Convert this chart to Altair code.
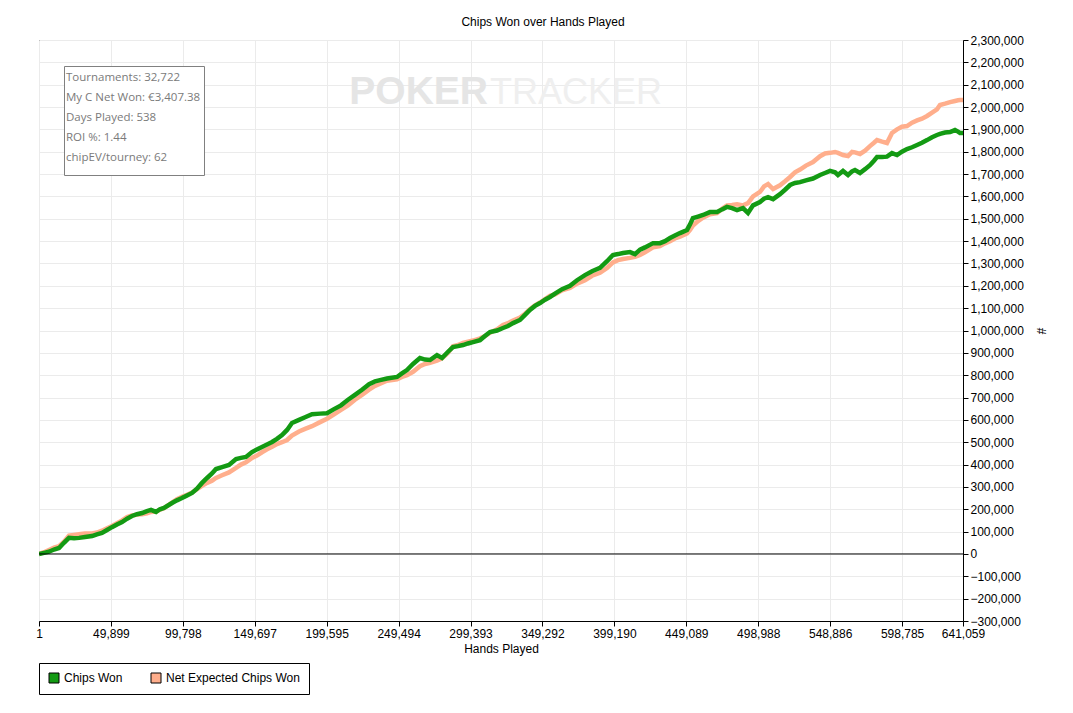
import altair as alt
import pandas as pd

# ---- data (hands in thousands, chips in thousands) ----
hands_k = [0.001, 3.5, 6.9, 10.4, 13.9, 17.3, 20.8, 24.3, 27.8, 31.9, 36.8, 40.2, 43.7, 47.2, 50.6,
           54.1, 57.6, 61.1, 64.5, 68.0, 71.5, 74.9, 77.7, 81.2, 83.9, 86.7, 92.3, 95.7, 99.2, 102.7,
           106.2, 109.6, 113.1, 116.6, 120.0, 122.8, 127.0, 131.8, 136.7, 140.1, 143.6, 147.8, 151.2,
           154.7, 158.2, 161.7, 165.1, 168.6, 172.1, 175.5, 180.4, 184.6, 189.4, 195.0, 199.8, 204.7,
           209.5, 214.4, 219.2, 224.1, 229.0, 233.1, 236.6, 241.4, 248.4, 251.8, 255.3, 259.5, 264.3,
           267.8, 271.3, 276.1, 279.6, 283.8, 287.2, 290.7, 294.2, 297.6, 301.1, 306.0, 309.4, 312.9,
           317.8, 321.9, 325.4, 328.9, 333.7, 337.2, 340.6, 344.1, 347.6, 351.1, 354.5, 358.0, 362.9,
           368.4, 373.3, 378.8, 383.7, 389.2, 394.1, 398.2, 401.7, 405.2, 410.0, 413.5, 417.0, 420.4,
           426.0, 430.8, 434.3, 437.8, 441.2, 444.7, 449.6, 451.7, 453.7, 457.2, 460.7, 465.5, 470.4,
           473.9, 477.3, 480.8, 484.3, 488.4, 491.9, 495.4, 500.2, 503.0, 505.8, 509.3, 514.1, 517.6,
           521.1, 524.5, 528.0, 532.1, 537.0, 541.9, 545.3, 548.8, 552.3, 554.3, 557.8, 561.3, 564.1,
           566.1, 569.6, 573.1, 576.5, 579.3, 581.4, 584.9, 588.3, 591.8, 595.3, 598.7, 602.2, 605.7,
           609.2, 612.6, 616.1, 619.6, 623.0, 625.1, 628.6, 632.1, 635.5, 637.6, 639.0, 641.059]

chips_won_k = [0, 5, 10, 20, 27, 50, 72, 70, 72, 76, 80, 88, 94, 107, 120,
               132, 143, 158, 170, 178, 183, 192, 197, 188, 200, 206, 228, 240, 250, 262,
               273, 292, 318, 340, 360, 380, 389, 398, 425, 430, 434, 456, 468,
               479, 490, 501, 515, 532, 555, 586, 600, 612, 625, 628, 630, 648,
               665, 690, 712, 735, 760, 772, 778, 785, 792, 808, 823, 850, 877,
               870, 868, 890, 877, 905, 926, 930, 935, 942, 948, 957, 975, 993,
               1000, 1011, 1020, 1033, 1047, 1070, 1092, 1110, 1123, 1138, 1150, 1165, 1185,
               1200, 1225, 1248, 1265, 1280, 1310, 1338, 1342, 1347, 1351, 1342, 1362, 1372,
               1391, 1391, 1400, 1414, 1425, 1436, 1450, 1475, 1503, 1510, 1517, 1530, 1530,
               1542, 1553, 1548, 1539, 1548, 1526, 1560, 1575, 1590, 1597, 1588, 1610, 1630,
               1651, 1660, 1664, 1672, 1680, 1696, 1705, 1714, 1708, 1696, 1714, 1696, 1712,
               1718, 1705, 1722, 1740, 1760, 1776, 1776, 1778, 1794, 1785, 1800, 1812, 1820,
               1830, 1840, 1852, 1865, 1875, 1880, 1886, 1888, 1897, 1890, 1884, 1884]

net_expected_k = [0, 8, 18, 28, 35, 55, 82, 85, 88, 92, 92, 96, 104, 115, 125,
                  138, 150, 165, 172, 176, 178, 182, 188, 190, 198, 205, 230, 245, 256, 265,
                  275, 290, 305, 318, 328, 340, 352, 365, 385, 400, 410, 430, 440,
                  455, 468, 480, 492, 500, 510, 530, 548, 560, 572, 590, 605, 625,
                  645, 665, 690, 712, 735, 752, 762, 775, 782, 792, 800, 815, 840,
                  850, 855, 865, 875, 900, 930, 935, 945, 950, 955, 965, 975, 990,
                  1005, 1025, 1033, 1045, 1058, 1075, 1095, 1112, 1125, 1140, 1155, 1162, 1180,
                  1190, 1210, 1225, 1245, 1258, 1280, 1305, 1315, 1320, 1325, 1330, 1338, 1350,
                  1372, 1378, 1390, 1400, 1412, 1420, 1435, 1450, 1470, 1490, 1505, 1520, 1525,
                  1545, 1560, 1562, 1565, 1560, 1570, 1600, 1620, 1645, 1655, 1633, 1650, 1668,
                  1687, 1708, 1720, 1738, 1754, 1780, 1792, 1795, 1799, 1795, 1785, 1781, 1799,
                  1797, 1790, 1805, 1825, 1840, 1852, 1845, 1839, 1884, 1900, 1912, 1915, 1930,
                  1940, 1948, 1960, 1975, 1990, 2009, 2015, 2022, 2027, 2030, 2031, 2031]

series_names = ["Chips Won", "Net Expected Chips Won"]
series_colors = ["#139a13", "#ffae8c"]

x_tick_values = [1, 49899, 99798, 149697, 199595, 249494, 299393, 349292, 399190,
                 449089, 498988, 548886, 598785, 641059]
y_tick_values = [-300000, -200000, -100000, 0, 100000, 200000, 300000, 400000, 500000,
                 600000, 700000, 800000, 900000, 1000000, 1100000, 1200000, 1300000,
                 1400000, 1500000, 1600000, 1700000, 1800000, 1900000, 2000000, 2100000,
                 2200000, 2300000]

info_lines = ["Tournaments: 32,722", "My C Net Won: \u20ac3,407.38", "Days Played: 538",
              "ROI %: 1.44", "chipEV/tourney: 62"]

chart_title = "Chips Won over Hands Played"

# ---- build table ----
rows = []
for h, v in zip(hands_k, chips_won_k):
    rows.append({"hands": round(h * 1000), "chips": v * 1000, "series": series_names[0]})
for h, v in zip(hands_k, net_expected_k):
    rows.append({"hands": round(h * 1000), "chips": v * 1000, "series": series_names[1]})
df = pd.DataFrame(rows)

W, H = 924, 581
FONT = "Liberation Sans"

x_scale = alt.Scale(domain=[1, 641059], nice=False, zero=False)
y_scale = alt.Scale(domain=[-300000, 2300000], nice=False, zero=False)

x_axis = alt.Axis(values=x_tick_values, format=",d", title="Hands Played",
                  grid=True, gridColor="#ebebeb", tickSize=5, tickColor="black",
                  domainColor="black", labelColor="black", labelFontSize=12,
                  labelFont=FONT, titleFont=FONT, titleFontSize=12,
                  titleFontWeight="normal", titleColor="black", labelPadding=2,
                  titlePadding=4, labelFlush=False, labelOverlap=False)
y_axis = alt.Axis(orient="right", values=y_tick_values, format=",d", title="#",
                  grid=True, gridColor="#ebebeb", tickSize=5, tickColor="black",
                  domainColor="black", labelColor="black", labelFontSize=12,
                  labelFont=FONT, titleFont=FONT, titleFontSize=12,
                  titleFontWeight="normal", titleColor="black", labelPadding=2,
                  titleAngle=90, titleX=77, titleY=H / 2, titleAlign="center",
                  titleBaseline="middle", labelOverlap=False, labelBound=False)

x_enc = alt.X("hands:Q", scale=x_scale, axis=x_axis)
y_enc = alt.Y("chips:Q", scale=y_scale, axis=y_axis)

fill_scale = alt.Scale(domain=series_names, range=series_colors)

one = alt.Data(values=[{}])

watermark_a = alt.Chart(one).mark_text(text="POKER", font=FONT, fontSize=39, fontWeight="bold",
                                       color="#e5e5e5", align="right", baseline="alphabetic").encode(
    x=alt.value(449), y=alt.value(64))
watermark_b = alt.Chart(one).mark_text(text="TRACKER", font=FONT, fontSize=36, fontWeight="normal",
                                       color="#efefef", align="left", baseline="alphabetic").encode(
    x=alt.value(451), y=alt.value(64))

line_net = alt.Chart(df).transform_filter(
    alt.datum.series == series_names[1]).mark_line(
    strokeWidth=4.5, clip=True, color=series_colors[1]).encode(x=x_enc, y=y_enc)
line_won = alt.Chart(df).transform_filter(
    alt.datum.series == series_names[0]).mark_line(
    strokeWidth=4.5, clip=True, color=series_colors[0]).encode(x=x_enc, y=y_enc)

zero_rule = alt.Chart(pd.DataFrame({"chips": [0]})).mark_rule(color="black", strokeWidth=1).encode(
    y=alt.Y("chips:Q", scale=y_scale, axis=y_axis))

legend_layer = alt.Chart(df).mark_point(
    shape="square", filled=True, opacity=0, size=1).encode(
    x=x_enc, y=y_enc,
    fill=alt.Fill("series:N", scale=fill_scale,
                  legend=alt.Legend(orient="none", legendX=0, legendY=623, direction="horizontal",
                                    title=None, symbolType="square", symbolSize=100,
                                    symbolStrokeColor="black", symbolStrokeWidth=1,
                                    symbolOpacity=1, strokeColor="black", fillColor="white",
                                    padding=9, columnPadding=26, labelFontSize=12,
                                    labelFont=FONT, labelColor="black", labelOffset=4,
                                    cornerRadius=0)))

info_box = alt.Chart(one).mark_rect(fill="white", stroke="#808080", strokeWidth=1).encode(
    x=alt.value(25.5), x2=alt.value(165.5), y=alt.value(26.5), y2=alt.value(135.5))
info_text = alt.Chart(one).mark_text(font="Open Sans", fontSize=11.5, color="#7a7a7a",
                                     align="left", baseline="top", lineHeight=20).encode(
    x=alt.value(27), y=alt.value(32), text=alt.value(info_lines))

title_text = alt.Chart(one).mark_text(text=chart_title, font=FONT, fontSize=12, color="black",
                                      align="center", baseline="middle").encode(
    x=alt.value(504), y=alt.value(-18))

chart = alt.layer(
    line_net, line_won, watermark_a, watermark_b, zero_rule, legend_layer,
    info_box, info_text, title_text
).properties(
    width=W, height=H,
    autosize=alt.AutoSizeParams(type="none"),
    padding={"left": 31, "top": 32, "right": 95, "bottom": 76},
    background="white"
).configure_view(stroke="black", strokeWidth=1).configure_axis(labelOverlap=False)

chart.save("out.html", embed_options={"renderer": "svg", "actions": False})
